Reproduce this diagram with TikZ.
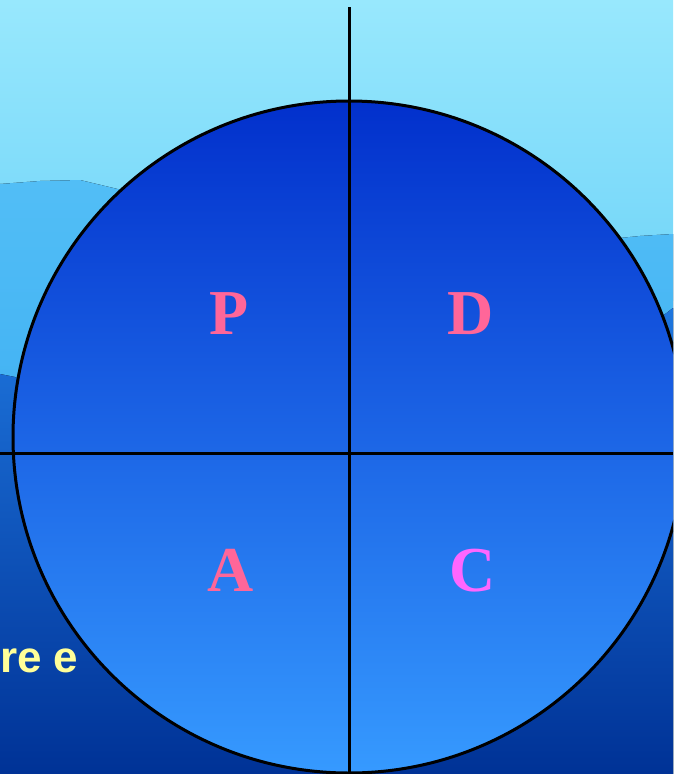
\documentclass[tikz,border=0pt]{standalone}
\usepackage{fontspec}
\setmainfont{Liberation Serif}
\newfontfamily\notesans{Liberation Sans}
\usepackage{tikz}
\usetikzlibrary{positioning}
\definecolor{skytop}{RGB}{152,232,253}
\definecolor{skylow}{RGB}{112,212,248}
\definecolor{hilltop}{RGB}{82,190,246}
\definecolor{hilllow}{RGB}{42,160,238}
\definecolor{ridgetop}{RGB}{30,118,222}
\definecolor{ridgelow}{RGB}{0,50,150}
\definecolor{wheeltop}{RGB}{2,48,204}
\definecolor{wheellow}{RGB}{54,154,255}
\definecolor{letterpink}{RGB}{255,102,153}
\definecolor{lettermag}{RGB}{255,102,255}
\definecolor{noteyellow}{RGB}{255,255,153}
\tikzset{
  wheel/.style={circle, draw, line width=3pt, minimum size=672pt, inner sep=0pt,
                top color=wheeltop, bottom color=wheellow},
  quad/.style={font=\fontsize{64}{64}\selectfont\bfseries, text=letterpink,
               anchor=base, inner sep=0pt},
  divider/.style={line width=3pt},
  note/.style={font=\notesans\fontsize{44}{44}\selectfont\bfseries, text=noteyellow,
               anchor=base west, inner sep=0pt}
}

\begin{document}
\begin{tikzpicture}[x=1pt, y=-1pt]
  \useasboundingbox (0,0) rectangle (673,774);
  \clip (0,0) rectangle (673,774);
  % sky and hills
  \fill[top color=skytop, bottom color=skylow] (0,0) rectangle (673,300);
  \fill[top color=hilltop, bottom color=hilllow] (0,184) -- (40,181) -- (80,180) -- (130,192)
    -- (400,205) -- (600,240) -- (640,236) -- (673,234)
    -- (673,774) -- (0,774) -- cycle;
  \fill[top color=ridgetop, bottom color=ridgelow] (0,374) -- (15,377) -- (60,400) -- (400,380)
    -- (640,330) -- (660,318) -- (673,308) -- (673,774) -- (0,774) -- cycle;
  \node[note] (n) at (0,672) {re e};

  \node[wheel] (w) at (349,437) {};
  \coordinate (top) at (349,7);
  \coordinate (bottom) at (349,774);
  \coordinate (left) at (0,453);
  \coordinate (right) at (673,453);
  \draw[divider] (top) -- (bottom);
  \draw[divider] (left) -- (right);

  \node[quad] (p) at (229,334) {P};
  \node[quad] (d) at (471,334) {D};
  \node[quad] (a) at (231,591) {A};
  \node[quad, text=lettermag] (c) at (473,591) {C};
\end{tikzpicture}
\end{document}
